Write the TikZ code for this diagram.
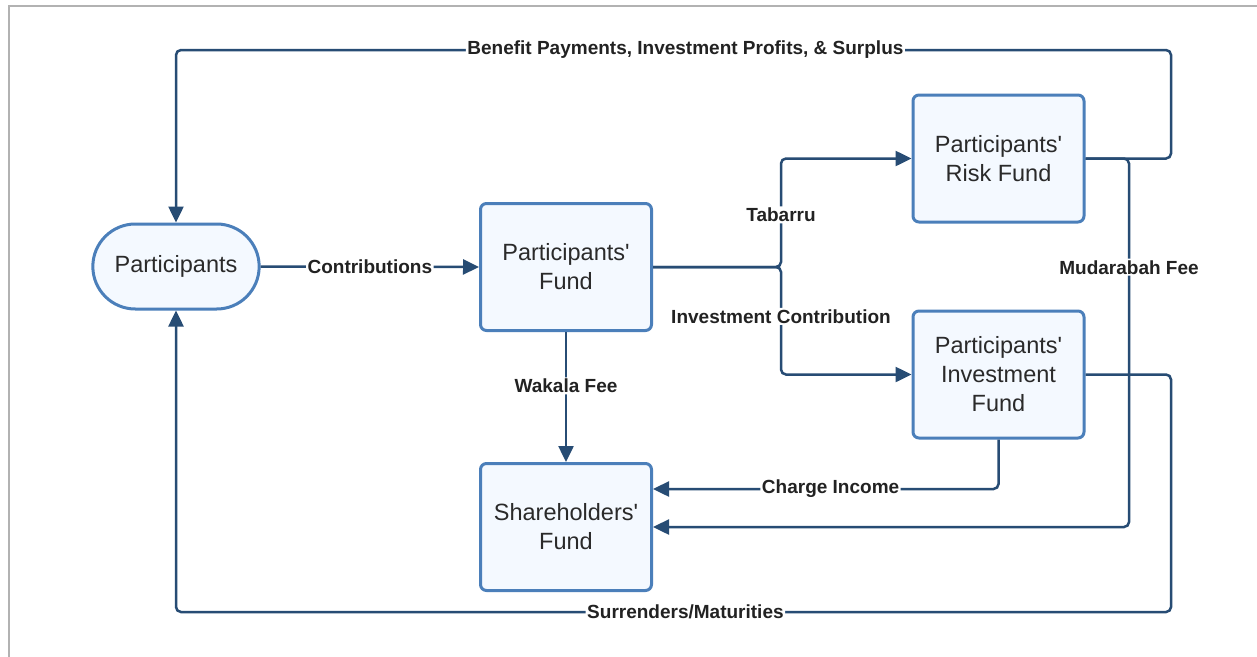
\documentclass[tikz,border=0pt]{standalone}
\usepackage{fontspec}
\setmainfont{Liberation Sans}[Ligatures=TeXOff]
\usetikzlibrary{arrows.meta,shapes.misc}
\definecolor{conncol}{HTML}{274C74}
\definecolor{boxline}{HTML}{4B7FBA}
\definecolor{boxfill}{HTML}{F4F9FF}
\definecolor{txtcol}{HTML}{2A2A2A}
\definecolor{lblcol}{HTML}{222222}
\begin{document}
\begin{tikzpicture}[x=1pt,y=-1pt,
  fundbox/.style={draw=boxline, fill=boxfill, line width=3pt, rounded corners=6pt,
    minimum width=171pt, minimum height=127pt, align=center, text=txtcol,
    font=\fontsize{23.5}{29}\selectfont, inner sep=2pt},
  pillbox/.style={draw=boxline, fill=boxfill, line width=3pt, rounded rectangle,
    minimum width=173pt, minimum height=85pt, text=txtcol,
    font=\fontsize{23.5}{29}\selectfont},
  conn/.style={draw=conncol, line width=2.5pt, rounded corners=5pt,
    -{Triangle[length=16pt,width=15pt]}},
  plain/.style={draw=conncol, line width=2.5pt, rounded corners=5pt},
  lbl/.style={fill=white, text=lblcol, inner sep=1.5pt,
    font=\fontsize{19}{22}\selectfont\bfseries}]
\useasboundingbox (0,0) rectangle (1257,656);
\fill[white] (0,0) rectangle (1257,656);
\draw[black!30, line width=2pt] (9,700) -- (9,6) -- (1300,6);

\node[pillbox] (parts) at (176,266.5) {Participants};
\node[fundbox] (pf) at (566,267) {Participants'\\Fund};
\node[fundbox] (risk) at (998.5,158.5) {Participants'\\Risk Fund};
\node[fundbox] (inv) at (998.5,374.5) {Participants'\\Investment\\Fund};
\node[fundbox] (share) at (566,527) {Shareholders'\\Fund};

\coordinate (tr) at (1171,50);
\coordinate (tl) at (176,50);
\coordinate (br) at (1171,612);
\coordinate (bl) at (176,612);
\coordinate (jn) at (781,267);
\coordinate (md) at (1129,158.5);
\coordinate (mdb) at (1129,527);

% Benefit payments
\draw[conn] (risk.east) -| (tr) -- node[lbl,pos=0.488]{Benefit Payments, Investment Profits, \& Surplus} (tl) -- (parts.north);
% Contributions
\draw[conn] (parts.east) -- node[lbl]{Contributions} (pf.west);
% Tabarru / Investment contribution
\draw[conn] (pf.east) -- (jn) |- node[lbl,pos=0.24]{Tabarru} (risk.west);
\draw[conn] (pf.east) -- (jn) |- node[lbl,pos=0.23]{Investment Contribution} (inv.west);
% Wakala fee
\draw[conn] (pf.south) -- node[lbl,pos=0.415]{Wakala Fee} (share.north);
% Charge income
\draw[conn] (inv.south) |- node[lbl,pos=0.743]{Charge Income} ([yshift=38pt]share.east);
% Mudarabah fee
\draw[conn] (risk.east) -- (md) -- node[lbl,pos=0.295]{Mudarabah Fee} (mdb) -- (share.east);
% Surrenders
\draw[conn] (inv.east) -| (br) -- node[lbl,pos=0.488]{Surrenders/Maturities} (bl) -- (parts.south);
\end{tikzpicture}
\end{document}
